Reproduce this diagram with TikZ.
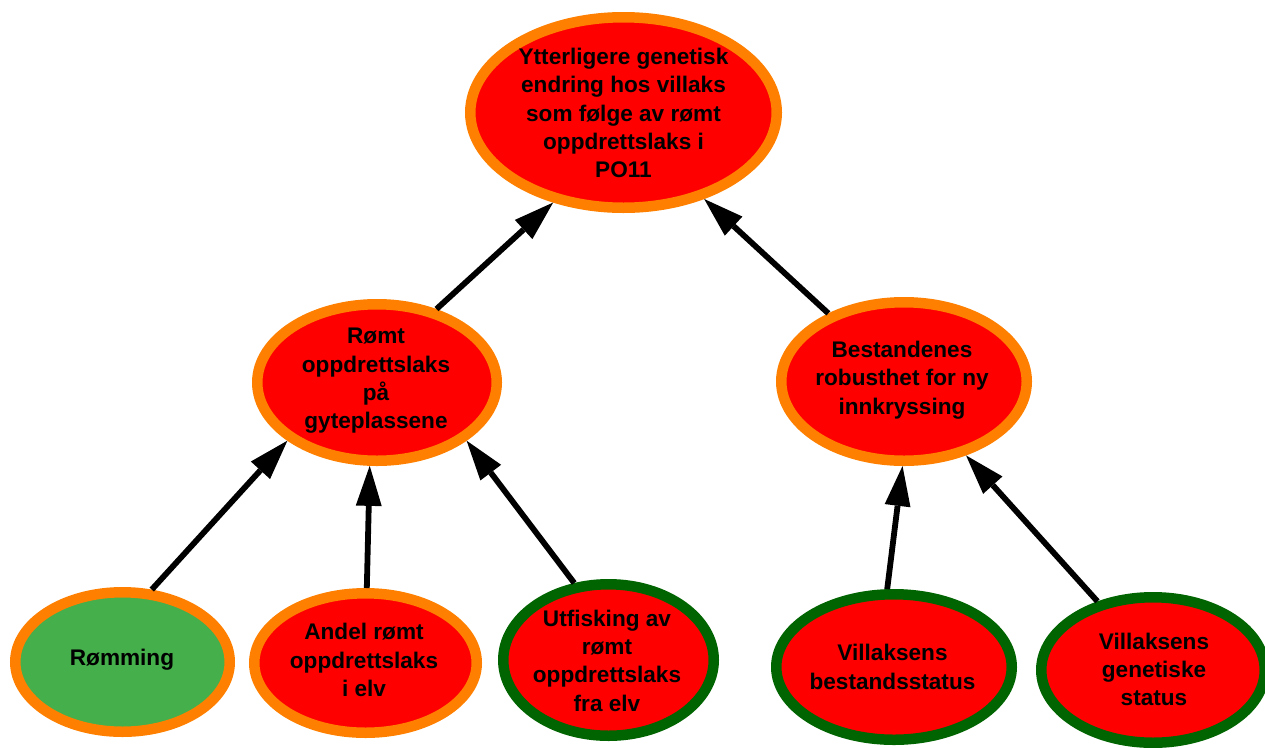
\documentclass[tikz,border=0pt]{standalone}
\usepackage{fontspec}
\setmainfont{Liberation Sans}
\usetikzlibrary{shapes.geometric,arrows.meta}
\definecolor{borange}{HTML}{FF8000}
\definecolor{bred}{HTML}{FF0000}
\definecolor{bdgreen}{HTML}{006400}
\definecolor{blgreen}{HTML}{44AF4B}
\begin{document}
\begin{tikzpicture}[x=1pt,y=-1pt,
  oval/.style={ellipse, inner sep=0pt, line width=10.5pt, outer sep=5.25pt},
  orng/.style={oval, draw=borange},
  grn/.style={oval, draw=bdgreen},
  sz/.style 2 args={minimum width={2*#1-10.5}, minimum height={2*#2-10.5}},
  lbl/.style={align=center, font=\fontsize{22.6}{28.3}\selectfont\bfseries, inner sep=0pt},
  link/.style={line width=5.8pt, -{Triangle[length=40pt,width=26pt,line width=0pt]}}]
\useasboundingbox (0,0) rectangle (1265,747);

% ellipses
\node[orng, fill=bred, sz={158.5}{100.5}] (top) at (623.5,112.5) {};
\node[orng, fill=bred, sz={125}{83.5}] (romt) at (377,382.5) {};
\node[orng, fill=bred, sz={128}{84.5}] (best) at (904,381.5) {};
\node[orng, fill=blgreen, sz={112.5}{75}] (romming) at (122.5,662) {};
\node[orng, fill=bred, sz={116.5}{75}] (andel) at (365.5,663) {};
\node[grn, fill=bred, sz={110.5}{81}] (utfisk) at (608.5,660) {};
\node[grn, fill=bred, sz={123}{78}] (vbest) at (894,667) {};
\node[grn, fill=bred, sz={117}{78}] (vgen) at (1153,670) {};

% texts
\node[lbl] (topT) at (623.5,113) {Ytterligere genetisk\\endring hos villaks\\som følge av rømt\\oppdrettslaks i\\PO11};
\node[lbl] (romtT) at (376,381) {Rømt\\oppdrettslaks\\på\\gyteplassene};
\node[lbl] (bestT) at (902,380) {Bestandenes\\robusthet for ny\\innkryssing};
\node[lbl] (rommingT) at (122,660) {Rømming};
\node[lbl] (andelT) at (364,660) {Andel rømt\\oppdrettslaks\\i elv};
\node[lbl] (utfiskT) at (607,660.5) {Utfisking av\\rømt\\oppdrettslaks\\fra elv};
\node[lbl] (vbestT) at (892.5,667) {Villaksens\\bestandsstatus};
\node[lbl] (vgenT) at (1154,669.5) {Villaksens\\genetiske\\status};

% connectors
\draw[link] (romming.68) -- (romt.213);
\draw[link] (andel.89.6) -- (romt.265.9);
\draw[link] (utfisk.114.8) -- (romt.327.7);
\draw[link] (vbest.95.2) -- (best.269.3);
\draw[link] (vgen.129.5) -- (best.310.6);
\draw[link] (romt.51.1) -- (top.232.5);
\draw[link] (best.138.3) -- (top.313.4);
\end{tikzpicture}
\end{document}
